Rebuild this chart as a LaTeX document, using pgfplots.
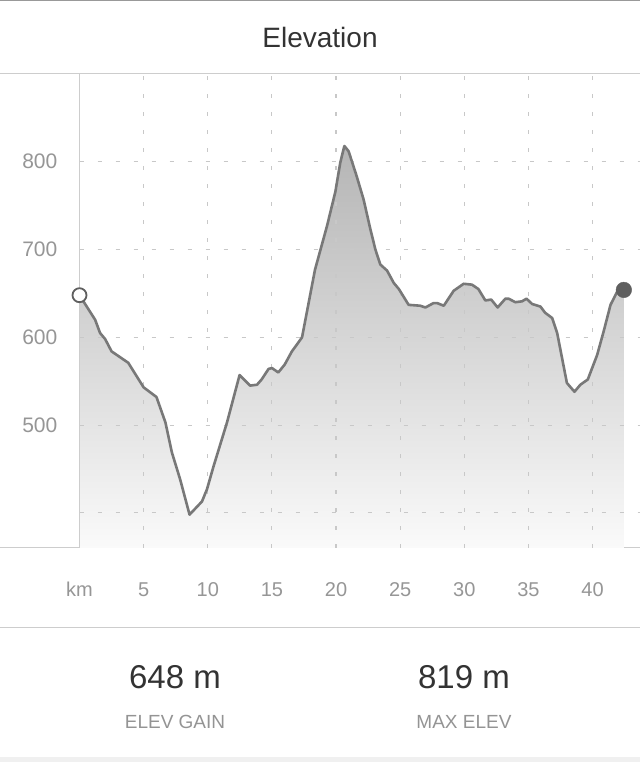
\documentclass[border=0pt]{standalone}
\usepackage{pgfplots}
\pgfplotsset{compat=1.18}
\usepackage{pgfplotstable}
\usepackage{fontspec}
\setmainfont{Liberation Sans}
\definecolor{linegray}{RGB}{120,120,120}
\definecolor{ticktext}{RGB}{150,150,150}
\definecolor{gridgray}{RGB}{200,200,200}
\definecolor{rulegray}{RGB}{205,205,205}
\definecolor{darktext}{RGB}{51,51,51}
\definecolor{dotgray}{RGB}{95,95,95}

\pgfplotstableread{
km elev
0 648
1.22 620
1.6 605
2.0 598
2.5 584
3.8 571
5.0 543
6.0 532
6.7 503
7.2 469
7.85 438
8.58 398
9.55 413
9.94 427
10.45 453
11.5 503
12.48 557
13.3 545
13.84 546
14.2 552
14.74 564
15.0 565
15.5 560
16.0 569
16.56 584
16.96 592
17.35 600
18.36 677
19.3 727
19.95 766
20.33 799
20.65 818
20.98 812
21.6 784
22.15 757
22.68 723
23.07 700
23.45 683
23.98 676
24.5 662
24.9 655
25.66 637
26.57 636
26.97 634
27.6 639
27.88 639
28.4 636
29.17 653
29.95 661
30.6 660
31.1 655
31.64 642
32.1 643
32.6 634
33.2 644
33.46 644
33.98 640
34.5 641
34.85 644
35.29 638
35.94 635
36.3 628
36.85 622
37.24 605
38.0 548
38.59 538
39.05 546
39.63 552
40.36 580
40.87 607
41.4 637
41.92 652
42.44 654
}\profile

\pgfplotstableread{
km elev
0 648
1.22 620
1.6 605
2.0 598
2.5 584
3.8 571
5.0 543
6.0 532
6.7 503
7.2 469
7.85 438
8.58 398
9.55 413
9.94 427
10.45 453
11.5 503
12.48 557
13.3 545
13.84 546
14.2 552
14.74 564
15.0 565
15.5 560
16.0 569
16.56 584
16.96 592
17.35 600
18.36 677
19.3 727
19.95 766
20.33 799
20.65 818
20.98 812
21.6 784
22.15 757
22.68 723
23.07 700
23.45 683
23.98 676
24.5 662
24.9 655
25.66 637
26.57 636
26.97 634
27.6 639
27.88 639
28.4 636
29.17 653
29.95 661
30.6 660
31.1 655
31.64 642
32.1 643
32.6 634
33.2 644
33.46 644
33.98 640
34.5 641
34.85 644
35.29 638
35.94 635
36.3 628
36.85 622
37.24 605
38.0 548
38.59 538
39.05 546
39.63 552
40.36 580
40.87 607
41.4 637
41.92 652
42.44 654
42.44 360
0 360
}\profilearea

\pgfplotsset{
  elevframe/.style={
    at={(79.5bp,214bp)}, anchor=south west,
    scale only axis, width=560.5bp, height=474bp,
    xmin=0, xmax=43.7, ymin=360, ymax=900,
  }
}

\begin{document}
\begin{tikzpicture}[x=1bp,y=1bp]
\fill[white] (0,0) rectangle (640,762);
% rules
\draw[line width=1.2bp, color=black!40] (0,761.4) -- (640,761.4);
\draw[line width=1bp, color=rulegray] (0,688) -- (640,688);
\draw[line width=1bp, color=rulegray] (0,214) -- (640,214);
\draw[line width=1bp, color=rulegray] (0,134) -- (640,134);
\fill[black!6] (0,0) rectangle (640,4.5);
% title
\node[font=\fontsize{28bp}{32bp}\selectfont, text=darktext] at (320,724) {Elevation};
\begin{axis}[
  elevframe,
  axis on top,
  axis line style={draw=none},
  xtick={5,10,15,20,25,30,35,40},
  extra x ticks={0},
  extra x tick labels={km},
  extra x tick style={grid=none},
  ytick={400,500,600,700,800},
  yticklabels={,500,600,700,800},
  major tick length=0pt,
  grid=major,
  major grid style={dash pattern=on 4bp off 14bp, color=gridgray, line width=1.1bp},
  /pgf/number format/assume math mode=true,
  xticklabel style={font=\fontsize{20bp}{24bp}\selectfont, text=ticktext, anchor=center, text height=14bp, text depth=0bp, yshift=-42bp},
  yticklabel style={font=\fontsize{21bp}{24bp}\selectfont, text=ticktext, anchor=east, inner sep=0pt, xshift=-22bp},
]
\addplot[draw=none, top color=black!29, middle color=black!17, bottom color=black!2] table[x=km, y=elev] {\profilearea};
\end{axis}
% y axis line
\draw[line width=1bp, color=rulegray] (79.5,214) -- (79.5,688);
\begin{axis}[
  elevframe,
  hide axis,
  clip=false,
]
\addplot[color=linegray, line width=2.6bp, line join=round, mark=none] table[x=km, y=elev] {\profile};
\addplot[only marks, mark=*, mark size=7bp, mark options={fill=white, draw=dotgray, line width=1.8bp}] coordinates {(0,648)};
\addplot[only marks, mark=*, mark size=7.8bp, mark options={fill=dotgray, draw=dotgray}] coordinates {(42.44,654)};
\end{axis}
% stats
\node[font=\fontsize{33bp}{36bp}\selectfont, text=darktext] at (175,85) {648 m};
\node[font=\fontsize{19bp}{22bp}\selectfont, text=black!42] at (175,40.5) {ELEV GAIN};
\node[font=\fontsize{33bp}{36bp}\selectfont, text=darktext] at (464,85) {819 m};
\node[font=\fontsize{19bp}{22bp}\selectfont, text=black!42] at (464,40.5) {MAX ELEV};
\pgfresetboundingbox
\useasboundingbox (0,0) rectangle (640,762);
\end{tikzpicture}
\end{document}
